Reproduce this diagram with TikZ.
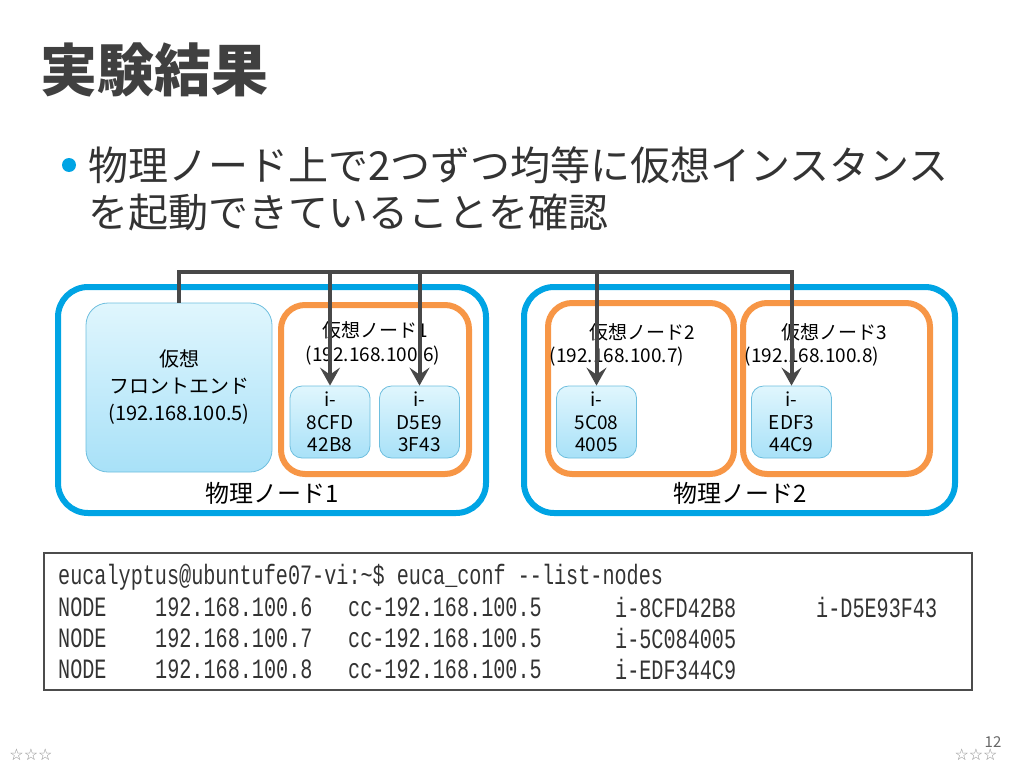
\documentclass[tikz,border=0pt]{standalone}
\usepackage{fontspec}
\usepackage{graphicx}
\setmainfont{Noto Sans CJK JP}
\newfontfamily\termfont{Liberation Mono}
\newfontfamily\starfont{DejaVu Sans}
\usetikzlibrary{arrows.meta,positioning}
\definecolor{physblue}{RGB}{0,164,228}
\definecolor{virtorange}{RGB}{247,150,70}
\definecolor{textgray}{RGB}{64,64,64}
\definecolor{linegray}{RGB}{72,72,72}
\definecolor{instedge}{RGB}{110,190,222}
\definecolor{insttop}{RGB}{224,246,253}
\definecolor{instbot}{RGB}{168,225,248}
\newcommand{\fsz}[2]{\fontsize{#1}{#2}\selectfont}
\newcommand{\term}[1]{\scalebox{0.72}[1]{\termfont\fsz{28}{30}#1}}

\begin{document}
\begin{tikzpicture}[x=1pt, y=-1pt,
    physbox/.style={draw=physblue, line width=6pt, rounded corners=30pt},
    virtbox/.style={draw=virtorange, line width=6pt, rounded corners=24pt},
    instbox/.style={draw=instedge, line width=0.8pt, rounded corners=12pt,
                    top color=insttop, bottom color=instbot, align=center,
                    inner sep=0pt, font=\fsz{19}{22.5}},
    lbl/.style={inner sep=0pt, font=\fsz{19}{24}},
    trm/.style={inner sep=0pt, anchor=west, text=black!80},
    busline/.style={draw=linegray, line width=4pt},
    busarrow/.style={busline, -{Stealth[length=18pt 0 0, width=20pt 0 0, inset=7pt 0 0]}}]
  \useasboundingbox (0,0) rectangle (1024,768);
  % Titel und Aufzaehlung
  \node[inner sep=0pt, anchor=west, text=textgray, font=\fsz{57}{60}\bfseries] (title) at (40,70) {実験結果};
  \fill[physblue] (69,165) circle (7);
  \node[inner sep=0pt, anchor=west, text=black!80, font=\fsz{40}{44}] (line1) at (88,165) {物理ノード上で2つずつ均等に仮想インスタンス};
  \node[inner sep=0pt, anchor=west, text=black!80, font=\fsz{40}{44}] (line2) at (88,212) {を起動できていることを確認};
  % Physische Knoten
  \node[physbox, minimum width=428pt, minimum height=226pt] (phys1) at (272,400) {};
  \node[physbox, minimum width=431pt, minimum height=226pt] (phys2) at (739.5,400) {};
  \node[lbl, font=\fsz{24}{26}] (phys1lbl) at (272,493) {物理ノード1};
  \node[lbl, font=\fsz{24}{26}] (phys2lbl) at (740,493) {物理ノード2};
  % Frontend
  \node[draw=instedge, line width=0.8pt, rounded corners=22pt, top color=insttop, bottom color=instbot,
        minimum width=186pt, minimum height=169pt, align=center, inner sep=0pt,
        font=\fsz{20}{27}] (fe) at (179,387.5) {仮想\\フロントエンド\\(192.168.100.5)};
  % Virtuelle Knoten
  \node[virtbox, minimum width=188pt, minimum height=169pt] (virt1) at (375,389.5) {};
  \node[virtbox, minimum width=186pt, minimum height=171pt] (virt2) at (641,388.5) {};
  \node[virtbox, minimum width=187pt, minimum height=171pt] (virt3) at (836.5,388.5) {};
  \node[lbl] (virt1lbl) at (375,330) {仮想ノード1};
  \node[lbl] (virt1ip) at (373,356) {(192.168.100.6)};
  \node[lbl] (virt2lbl) at (642,332) {仮想ノード2};
  \node[lbl] (virt2ip) at (617,357) {(192.168.100.7)};
  \node[lbl] (virt3lbl) at (834,332) {仮想ノード3};
  \node[lbl] (virt3ip) at (812,357) {(192.168.100.8)};
  % Instanzen
  \node[instbox, minimum width=80pt, minimum height=72pt] (inst1) at (330,422) {i-\\8CFD\\42B8};
  \node[instbox, minimum width=80pt, minimum height=72pt] (inst2) at (419.5,422) {i-\\D5E9\\3F43};
  \node[instbox, minimum width=80pt, minimum height=72pt] (inst3) at (596.5,422) {i-\\5C08\\4005};
  \node[instbox, minimum width=80pt, minimum height=72pt] (inst4) at (791.5,422) {i-\\EDF3\\44C9};
  % Verbindungen
  \coordinate (bus) at (0,272);
  \draw[busarrow] (fe.north) |- (inst4.north |- bus) -- (inst4.north);
  \foreach \n in {inst1,inst2,inst3}
    \draw[busarrow] (\n.north |- bus) -- (\n.north);
  % Terminalausgabe
  \node[draw=black!70, line width=2pt, minimum width=928pt, minimum height=137pt] (termbox) at (508,621.5) {};
  \node[trm] (cmd) at (58,577) {\term{eucalyptus@ubuntufe07-vi:\textasciitilde\$ euca\_conf -{}-list-nodes}};
  \foreach \y/\ip/\ia/\ib in {607/6/i-8CFD42B8/i-D5E93F43, 638/7/i-5C084005/, 669/8/i-EDF344C9/} {
    \node[trm] at (58,\y) {\term{NODE}};
    \node[trm] at (155,\y) {\term{192.168.100.\ip}};
    \node[trm] at (348,\y) {\term{cc-192.168.100.5}};
    \node[trm] at (615,\y) {\term{\ia}};
    \node[trm] at (816,\y) {\term{\ib}};
  }
  % Fusszeile
  \node[inner sep=0pt, text=black!45, font=\starfont\fsz{16}{18}] (starl) at (31,755) {☆☆☆};
  \node[inner sep=0pt, text=black!45, font=\starfont\fsz{16}{18}] (starr) at (976,755) {☆☆☆};
  \node[inner sep=0pt, text=black!60, font=\fsz{15}{16}] (pageno) at (993,742) {12};
\end{tikzpicture}
\end{document}
